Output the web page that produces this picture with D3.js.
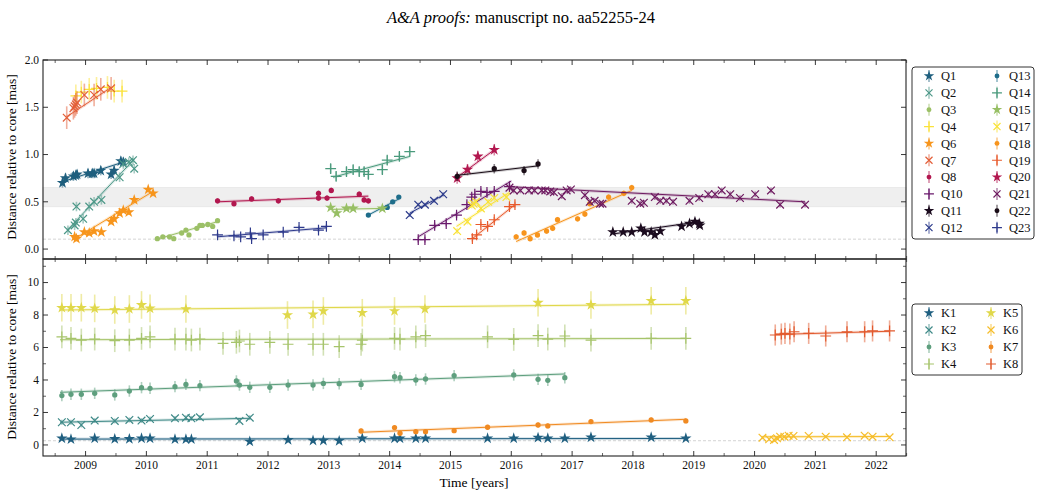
<!DOCTYPE html>
<html>
<head>
<meta charset="utf-8">
<script src="https://cdn.jsdelivr.net/npm/d3@7"></script>
<style>
  body { margin: 0; background: #fff; }
  svg { font-family: "Liberation Serif", "DejaVu Serif", serif; }
</style>
</head>
<body>
<svg id="chart" width="1042" height="496"></svg>
<script>
// ---- top panel (Q components): epochs [yr], distance [mas], fit [t0, v0, t1, v1]
const Q1_t = [2008.62, 2008.67, 2008.80, 2008.84, 2008.86, 2009.04, 2009.11, 2009.14, 2009.25, 2009.42, 2009.47, 2009.58, 2009.62];
const Q1_v = [0.70, 0.75, 0.77, 0.78, 0.79, 0.80, 0.80, 0.80, 0.83, 0.79, 0.83, 0.93, 0.92];
const Q1_fit = [2008.61, 0.71, 2009.62, 0.92];

const Q2_t = [2008.71, 2008.82, 2008.84, 2008.85, 2008.96, 2009.06, 2009.14, 2009.26, 2009.56, 2009.62, 2009.71, 2009.78, 2009.80];
const Q2_v = [0.20, 0.25, 0.28, 0.45, 0.32, 0.45, 0.50, 0.52, 0.76, 0.90, 0.92, 0.94, 0.85];
const Q2_fit = [2008.70, 0.20, 2009.80, 0.95];

const Q3_t = [2010.18, 2010.27, 2010.38, 2010.45, 2010.58, 2010.65, 2010.70, 2010.83, 2010.88, 2010.92, 2011.01, 2011.09, 2011.17];
const Q3_v = [0.11, 0.13, 0.13, 0.11, 0.17, 0.20, 0.15, 0.22, 0.25, 0.25, 0.26, 0.24, 0.30];
const Q3_fit = [2010.15, 0.10, 2011.17, 0.29];

const Q4_t = [2008.84, 2008.93, 2009.06, 2009.18, 2009.36, 2009.47, 2009.60];
const Q4_v = [1.62, 1.66, 1.69, 1.70, 1.71, 1.67, 1.67];
const Q4_fit = null;

const Q6_t = [2008.82, 2008.85, 2008.98, 2009.06, 2009.14, 2009.26, 2009.42, 2009.47, 2009.56, 2009.62, 2009.71, 2009.80, 2010.03, 2010.11];
const Q6_v = [0.13, 0.11, 0.18, 0.17, 0.19, 0.18, 0.29, 0.32, 0.38, 0.41, 0.39, 0.52, 0.63, 0.59];
const Q6_fit = [2008.80, 0.10, 2010.11, 0.61];

const Q7_t = [2008.69, 2008.80, 2008.82, 2008.84, 2008.86, 2008.98, 2009.14, 2009.25, 2009.42];
const Q7_v = [1.39, 1.49, 1.51, 1.53, 1.55, 1.63, 1.63, 1.69, 1.70];
const Q7_fit = [2008.69, 1.40, 2009.42, 1.71];

const Q8_t = [2011.17, 2011.44, 2011.73, 2012.17, 2012.83, 2012.83, 2012.97, 2013.04, 2013.50, 2013.58, 2013.65];
const Q8_v = [0.51, 0.48, 0.53, 0.51, 0.54, 0.59, 0.54, 0.62, 0.58, 0.52, 0.51];
const Q8_fit = [2011.17, 0.50, 2013.65, 0.56];

const Q10_t = [2014.47, 2014.58, 2014.74, 2014.93, 2015.10, 2015.27, 2015.35, 2015.40, 2015.50, 2015.60, 2015.72, 2015.97];
const Q10_v = [0.10, 0.10, 0.25, 0.27, 0.36, 0.47, 0.55, 0.58, 0.61, 0.60, 0.61, 0.66];
const Q10_fit = [2014.47, 0.13, 2016.00, 0.72];

const Q11_t = [2017.67, 2017.84, 2017.98, 2018.13, 2018.19, 2018.30, 2018.36, 2018.45, 2018.80, 2018.93, 2019.02, 2019.09, 2019.10];
const Q11_v = [0.18, 0.18, 0.18, 0.22, 0.18, 0.18, 0.15, 0.19, 0.24, 0.27, 0.29, 0.27, 0.25];
const Q11_fit = [2017.67, 0.16, 2019.10, 0.29];

const Q12_t = [2014.33, 2014.47, 2014.58, 2014.73, 2014.88];
const Q12_v = [0.36, 0.47, 0.47, 0.51, 0.58];
const Q12_fit = [2014.33, 0.38, 2014.88, 0.57];

const Q13_t = [2013.65, 2013.96, 2014.05, 2014.15];
const Q13_v = [0.36, 0.44, 0.50, 0.55];
const Q13_fit = [2013.65, 0.36, 2014.15, 0.53];

const Q14_t = [2013.03, 2013.12, 2013.29, 2013.40, 2013.50, 2013.58, 2013.65, 2013.88, 2013.96, 2014.16, 2014.33];
const Q14_v = [0.85, 0.77, 0.82, 0.84, 0.82, 0.82, 0.79, 0.84, 0.94, 0.98, 1.03];
const Q14_fit = [2013.07, 0.76, 2014.33, 0.98];

const Q15_t = [2013.03, 2013.13, 2013.29, 2013.40, 2013.88];
const Q15_v = [0.44, 0.38, 0.43, 0.43, 0.43];
const Q15_fit = [2013.03, 0.42, 2013.90, 0.43];

const Q17_t = [2015.11, 2015.28, 2015.35, 2015.38, 2015.42, 2015.50, 2015.62, 2015.72, 2015.92];
const Q17_v = [0.19, 0.29, 0.46, 0.48, 0.50, 0.43, 0.50, 0.54, 0.55];
const Q17_fit = [2015.10, 0.24, 2015.97, 0.60];

const Q18_t = [2016.08, 2016.21, 2016.31, 2016.43, 2016.58, 2016.68, 2016.76, 2017.09, 2017.21, 2017.29, 2017.60, 2017.85, 2017.98];
const Q18_v = [0.13, 0.17, 0.11, 0.15, 0.19, 0.22, 0.31, 0.32, 0.37, 0.48, 0.55, 0.59, 0.65];
const Q18_fit = [2016.08, 0.08, 2017.98, 0.62];

const Q19_t = [2015.36, 2015.43, 2015.50, 2015.61, 2015.72, 2015.97, 2016.06];
const Q19_v = [0.11, 0.15, 0.26, 0.24, 0.31, 0.45, 0.47];
const Q19_fit = [2015.36, 0.11, 2016.06, 0.47];

const Q20_t = [2015.11, 2015.28, 2015.45, 2015.72];
const Q20_v = [0.75, 0.84, 0.98, 1.05];
const Q20_fit = [2015.11, 0.76, 2015.72, 1.05];

const Q21_t = [2015.97, 2016.04, 2016.15, 2016.29, 2016.38, 2016.50, 2016.56, 2016.64, 2016.70, 2016.83, 2016.91, 2016.98,
               2017.21, 2017.29, 2017.37, 2017.46, 2017.50, 2017.98, 2018.12, 2018.18, 2018.36, 2018.45, 2018.55, 2018.66,
               2018.93, 2019.09, 2019.24, 2019.35, 2019.46, 2019.60, 2019.76, 2020.01, 2020.27, 2020.42, 2020.83];
const Q21_v = [0.65, 0.62, 0.62, 0.62, 0.62, 0.62, 0.62, 0.61, 0.60, 0.56, 0.62, 0.63,
               0.57, 0.50, 0.51, 0.48, 0.48, 0.51, 0.48, 0.49, 0.55, 0.51, 0.51, 0.50,
               0.51, 0.54, 0.58, 0.58, 0.62, 0.58, 0.54, 0.58, 0.62, 0.47, 0.47];
const Q21_fit = [2015.97, 0.66, 2020.83, 0.50];

const Q22_t = [2015.11, 2015.72, 2016.21, 2016.44];
const Q22_v = [0.77, 0.85, 0.83, 0.90];
const Q22_fit = [2015.11, 0.78, 2016.44, 0.88];

const Q23_t = [2011.17, 2011.44, 2011.55, 2011.71, 2011.73, 2011.92, 2012.25, 2012.51, 2012.83, 2012.96];
const Q23_v = [0.15, 0.14, 0.13, 0.17, 0.11, 0.15, 0.18, 0.23, 0.20, 0.24];
const Q23_fit = [2011.17, 0.13, 2012.96, 0.225];

// ---- bottom panel (K components)
const K1_t = [2008.61, 2008.76, 2009.15, 2009.48, 2009.72, 2009.92, 2010.06, 2010.47, 2010.65, 2010.74, 2011.70, 2012.33, 2012.74, 2012.91,
              2013.17, 2013.55, 2014.08, 2014.17, 2014.43, 2014.59, 2015.61, 2016.04, 2016.44, 2016.60, 2016.88, 2017.31, 2018.30, 2018.87];
const K1_v = [0.41, 0.35, 0.41, 0.37, 0.37, 0.41, 0.41, 0.35, 0.35, 0.35, 0.21, 0.31, 0.27, 0.27,
              0.25, 0.41, 0.41, 0.41, 0.41, 0.41, 0.41, 0.41, 0.45, 0.41, 0.41, 0.47, 0.47, 0.41];
const K1_fit = [2008.58, 0.36, 2018.87, 0.40];

const K2_t = [2008.61, 2008.76, 2008.93, 2009.15, 2009.48, 2009.72, 2009.92, 2010.06, 2010.47, 2010.65, 2010.74, 2010.88, 2011.53, 2011.70];
const K2_v = [1.40, 1.40, 1.23, 1.50, 1.48, 1.54, 1.50, 1.60, 1.64, 1.68, 1.64, 1.70, 1.48, 1.68];
const K2_fit = [2008.58, 1.40, 2011.70, 1.64];

const K3_t = [2008.61, 2008.76, 2008.93, 2009.15, 2009.48, 2009.72, 2009.92, 2010.06, 2010.47, 2010.65, 2010.88, 2011.48, 2011.53, 2011.70,
              2012.03, 2012.33, 2012.74, 2012.91, 2013.17, 2013.53, 2014.08, 2014.17, 2014.43, 2014.59, 2015.06, 2016.04, 2016.44, 2016.60, 2016.88];
const K3_v = [3.04, 3.12, 3.12, 3.18, 3.08, 3.32, 3.53, 3.49, 3.59, 3.73, 3.65, 3.94, 3.69, 3.55,
              3.55, 3.69, 3.69, 3.79, 3.77, 3.73, 4.20, 4.14, 4.00, 4.06, 4.27, 4.31, 4.04, 3.98, 4.14];
const K3_fit = [2008.58, 3.24, 2016.88, 4.37];

const K4_t = [2008.61, 2008.76, 2008.93, 2009.15, 2009.48, 2009.72, 2009.92, 2010.06, 2010.47, 2010.65, 2010.74, 2010.88, 2011.26, 2011.48,
              2011.53, 2011.70, 2012.03, 2012.33, 2012.74, 2012.91, 2013.17, 2013.53, 2013.55, 2014.08, 2014.17, 2014.43, 2014.59, 2015.61,
              2016.04, 2016.44, 2016.60, 2016.88, 2017.31, 2018.30, 2018.87];
const K4_v = [6.66, 6.56, 6.46, 6.52, 6.42, 6.46, 6.56, 6.66, 6.52, 6.52, 6.46, 6.52, 6.26, 6.32,
              6.40, 6.20, 6.32, 6.20, 6.20, 6.20, 6.05, 6.20, 6.46, 6.56, 6.52, 6.66, 6.73, 6.66,
              6.50, 6.73, 6.52, 6.71, 6.46, 6.56, 6.56];
const K4_fit = [2008.58, 6.48, 2018.87, 6.56];

const K5_t = [2008.61, 2008.76, 2008.93, 2009.15, 2009.48, 2009.72, 2009.92, 2010.06, 2010.65, 2012.32, 2012.74, 2012.91,
              2013.55, 2014.08, 2014.58, 2016.44, 2017.31, 2018.30, 2018.87];
const K5_v = [8.45, 8.45, 8.45, 8.41, 8.31, 8.37, 8.62, 8.41, 8.37, 8.00, 8.04, 8.25,
              8.14, 8.25, 8.37, 8.76, 8.62, 8.88, 8.88];
const K5_fit = [2008.58, 8.31, 2018.87, 8.66];

const K6_t = [2020.13, 2020.24, 2020.32, 2020.37, 2020.42, 2020.49, 2020.56, 2020.64, 2020.89, 2021.17, 2021.52, 2021.81, 2021.94, 2022.22];
const K6_v = [0.45, 0.35, 0.31, 0.41, 0.51, 0.51, 0.57, 0.55, 0.55, 0.51, 0.47, 0.57, 0.51, 0.47];
const K6_fit = [2020.13, 0.50, 2022.22, 0.52];

const K7_t = [2013.53, 2014.08, 2014.17, 2014.43, 2014.59, 2015.06, 2015.61, 2016.44, 2016.60, 2017.31, 2018.30, 2018.87];
const K7_v = [0.86, 1.07, 0.72, 0.82, 0.82, 0.88, 1.09, 1.23, 1.17, 1.44, 1.54, 1.48];
const K7_fit = [2013.53, 0.78, 2018.87, 1.58];

const K8_t = [2020.34, 2020.44, 2020.50, 2020.58, 2020.65, 2020.89, 2021.17, 2021.52, 2021.81, 2021.94, 2022.22];
const K8_v = [6.77, 6.83, 6.87, 6.83, 6.97, 6.87, 6.71, 6.97, 6.97, 7.02, 7.02];
const K8_fit = [2020.34, 6.80, 2022.22, 7.00];

// series tables built from the arrays above
const topSeries = [
  {name: "Q1",  t: Q1_t,  v: Q1_v,  fit: Q1_fit,  err: 0.05, color: "#1f5f7e", marker: "star"},
  {name: "Q2",  t: Q2_t,  v: Q2_v,  fit: Q2_fit,  err: 0.05, color: "#4c9888", marker: "x"},
  {name: "Q3",  t: Q3_t,  v: Q3_v,  fit: Q3_fit,  err: 0.02, color: "#9cc067", marker: "circle"},
  {name: "Q4",  t: Q4_t,  v: Q4_v,  fit: Q4_fit,  err: 0.12, color: "#fbe23a", marker: "plus"},
  {name: "Q6",  t: Q6_t,  v: Q6_v,  fit: Q6_fit,  err: 0.03, color: "#f7951c", marker: "star"},
  {name: "Q7",  t: Q7_t,  v: Q7_v,  fit: Q7_fit,  err: 0.12, color: "#e35f39", marker: "x"},
  {name: "Q8",  t: Q8_t,  v: Q8_v,  fit: Q8_fit,  err: 0.03, color: "#b2174f", marker: "circle"},
  {name: "Q10", t: Q10_t, v: Q10_v, fit: Q10_fit, err: 0.03, color: "#6a1a6c", marker: "plus"},
  {name: "Q11", t: Q11_t, v: Q11_v, fit: Q11_fit, err: 0.02, color: "#1b0b1e", marker: "star"},
  {name: "Q12", t: Q12_t, v: Q12_v, fit: Q12_fit, err: 0.02, color: "#2c3b8b", marker: "x"},
  {name: "Q13", t: Q13_t, v: Q13_v, fit: Q13_fit, err: 0.02, color: "#1e6d8a", marker: "circle"},
  {name: "Q14", t: Q14_t, v: Q14_v, fit: Q14_fit, err: 0.05, color: "#4a9a7c", marker: "plus"},
  {name: "Q15", t: Q15_t, v: Q15_v, fit: Q15_fit, err: 0.02, color: "#97bf64", marker: "star"},
  {name: "Q17", t: Q17_t, v: Q17_v, fit: Q17_fit, err: 0.03, color: "#f9e234", marker: "x"},
  {name: "Q18", t: Q18_t, v: Q18_v, fit: Q18_fit, err: 0.03, color: "#f7941d", marker: "circle"},
  {name: "Q19", t: Q19_t, v: Q19_v, fit: Q19_fit, err: 0.03, color: "#e8592b", marker: "plus"},
  {name: "Q20", t: Q20_t, v: Q20_v, fit: Q20_fit, err: 0.06, color: "#b2174f", marker: "star"},
  {name: "Q21", t: Q21_t, v: Q21_v, fit: Q21_fit, err: 0.03, color: "#6e1a60", marker: "x"},
  {name: "Q22", t: Q22_t, v: Q22_v, fit: Q22_fit, err: 0.05, color: "#1a0d17", marker: "circle"},
  {name: "Q23", t: Q23_t, v: Q23_v, fit: Q23_fit, err: 0.02, color: "#2e3a8c", marker: "plus"}
];

const bottomSeries = [
  {name: "K1", t: K1_t, v: K1_v, fit: K1_fit, err: 0.10, color: "#1f5f80", marker: "star"},
  {name: "K2", t: K2_t, v: K2_v, fit: K2_fit, err: 0.15, color: "#3f8a88", marker: "x"},
  {name: "K3", t: K3_t, v: K3_v, fit: K3_fit, err: 0.35, color: "#5e9f7e", marker: "circle"},
  {name: "K4", t: K4_t, v: K4_v, fit: K4_fit, err: 0.70, color: "#a6c46b", marker: "plus"},
  {name: "K5", t: K5_t, v: K5_v, fit: K5_fit, err: 0.85, color: "#e0d84a", marker: "star"},
  {name: "K6", t: K6_t, v: K6_v, fit: K6_fit, err: 0.10, color: "#f6bd2a", marker: "x"},
  {name: "K7", t: K7_t, v: K7_v, fit: K7_fit, err: 0.15, color: "#f08a22", marker: "circle"},
  {name: "K8", t: K8_t, v: K8_v, fit: K8_fit, err: 0.65, color: "#e25a2e", marker: "plus"}
];

const yearTicks = [2009, 2010, 2011, 2012, 2013, 2014, 2015, 2016, 2017, 2018, 2019, 2020, 2021, 2022];
const topYTicks = [0.0, 0.5, 1.0, 1.5, 2.0];
const bottomYTicks = [0, 2, 4, 6, 8, 10];
const topBand = [0.447, 0.651];
const topFloor = 0.105;
const bottomFloor = 0.26;

// ---- layout
const svg = d3.select("#chart");
const left = 43, right = 906;
const topPanel = {y0: 60, y1: 259};
const botPanel = {y0: 259, y1: 456};

const x = d3.scaleLinear().domain([2008.30, 2022.49]).range([left, right]);
const yTop = d3.scaleLinear().domain([-0.105, 2.0]).range([topPanel.y1, topPanel.y0]);
const yBot = d3.scaleLinear().domain([-0.68, 11.45]).range([botPanel.y1, botPanel.y0]);

// title
const title = svg.append("text")
  .attr("x", 521).attr("y", 23)
  .attr("text-anchor", "middle")
  .attr("font-size", 16.5);
title.append("tspan").attr("font-style", "italic").text("A&A proofs:");
title.append("tspan").text(" manuscript no. aa52255-24");

function symbolFor(type) {
  if (type === "star") return d3.symbolStar;
  if (type === "circle") return d3.symbolCircle;
  if (type === "plus") return d3.symbolPlus;
  return d3.symbolTimes;
}

function drawMarker(sel, type, color, scale = 1) {
  const size = (type === "circle" ? 22 : type === "star" ? 40 : 40) * scale;
  const filled = type === "star" || type === "circle";
  sel.append("path")
    .attr("d", d3.symbol().type(symbolFor(type)).size(size)())
    .attr("fill", filled ? color : "none")
    .attr("stroke", filled ? "none" : color)
    .attr("stroke-width", 1.2);
}

function drawPanel(series, y, panel, clipId) {
  const g = svg.append("g");

  svg.append("clipPath").attr("id", clipId)
    .append("rect")
    .attr("x", left).attr("y", panel.y0)
    .attr("width", right - left).attr("height", panel.y1 - panel.y0);

  const plot = g.append("g").attr("clip-path", `url(#${clipId})`);

  series.forEach(s => {
    // fit line with faint envelope
    if (s.fit) {
      const [t0, v0, t1, v1] = s.fit;
      plot.append("line")
        .attr("x1", x(t0)).attr("y1", y(v0)).attr("x2", x(t1)).attr("y2", y(v1))
        .attr("stroke", s.color).attr("stroke-width", 3).attr("stroke-opacity", 0.2);
      plot.append("line")
        .attr("x1", x(t0)).attr("y1", y(v0)).attr("x2", x(t1)).attr("y2", y(v1))
        .attr("stroke", s.color).attr("stroke-width", 1);
    }
    const pts = s.t.map((t, i) => ({t: t, v: s.v[i]}));
    // error bars
    plot.selectAll(null).data(pts).enter().append("line")
      .attr("x1", d => x(d.t)).attr("x2", d => x(d.t))
      .attr("y1", d => y(d.v - s.err)).attr("y2", d => y(d.v + s.err))
      .attr("stroke", s.color).attr("stroke-width", 1.6).attr("stroke-opacity", 0.5);
    // markers
    plot.selectAll(null).data(pts).enter().append("g")
      .attr("transform", d => `translate(${x(d.t)},${y(d.v)})`)
      .each(function() { drawMarker(d3.select(this), s.marker, s.color); });
  });
  return g;
}

// top panel backgrounds
svg.append("rect")
  .attr("x", left).attr("width", right - left)
  .attr("y", yTop(topBand[1])).attr("height", yTop(topBand[0]) - yTop(topBand[1]))
  .attr("fill", "#efefef").attr("stroke", "#e2e2e2").attr("stroke-width", 0.6);
svg.append("line")
  .attr("x1", left).attr("x2", right).attr("y1", yTop(topFloor)).attr("y2", yTop(topFloor))
  .attr("stroke", "#c8c8c8").attr("stroke-width", 0.8).attr("stroke-dasharray", "3,2");
svg.append("line")
  .attr("x1", left).attr("x2", right).attr("y1", yBot(bottomFloor)).attr("y2", yBot(bottomFloor))
  .attr("stroke", "#c8c8c8").attr("stroke-width", 0.8).attr("stroke-dasharray", "3,2");

drawPanel(topSeries, yTop, topPanel, "clipTop");
drawPanel(bottomSeries, yBot, botPanel, "clipBot");

// ---- frames and inward ticks
function frame(panel, y, majors, minors, fmt) {
  const g = svg.append("g").attr("stroke", "#222");
  g.append("rect")
    .attr("x", left).attr("y", panel.y0)
    .attr("width", right - left).attr("height", panel.y1 - panel.y0)
    .attr("fill", "none").attr("stroke-width", 1.1);

  const xMinor = d3.range(2008.5, 2022.51, 1);
  yearTicks.forEach(t => {
    g.append("line").attr("x1", x(t)).attr("x2", x(t)).attr("y1", panel.y1).attr("y2", panel.y1 - 5).attr("stroke-width", 0.9);
    g.append("line").attr("x1", x(t)).attr("x2", x(t)).attr("y1", panel.y0).attr("y2", panel.y0 + 5).attr("stroke-width", 0.9);
  });
  xMinor.forEach(t => {
    g.append("line").attr("x1", x(t)).attr("x2", x(t)).attr("y1", panel.y1).attr("y2", panel.y1 - 3).attr("stroke-width", 0.7);
    g.append("line").attr("x1", x(t)).attr("x2", x(t)).attr("y1", panel.y0).attr("y2", panel.y0 + 3).attr("stroke-width", 0.7);
  });
  majors.forEach(v => {
    g.append("line").attr("x1", left).attr("x2", left + 5).attr("y1", y(v)).attr("y2", y(v)).attr("stroke-width", 0.9);
    g.append("line").attr("x1", right).attr("x2", right - 5).attr("y1", y(v)).attr("y2", y(v)).attr("stroke-width", 0.9);
    svg.append("text")
      .attr("x", left - 4).attr("y", y(v)).attr("dy", "0.33em")
      .attr("text-anchor", "end").attr("font-size", 11.5).attr("fill", "#111")
      .text(fmt(v));
  });
  minors.forEach(v => {
    g.append("line").attr("x1", left).attr("x2", left + 3).attr("y1", y(v)).attr("y2", y(v)).attr("stroke-width", 0.7);
    g.append("line").attr("x1", right).attr("x2", right - 3).attr("y1", y(v)).attr("y2", y(v)).attr("stroke-width", 0.7);
  });
}

frame(topPanel, yTop, topYTicks, [], d3.format(".1f"));
frame(botPanel, yBot, bottomYTicks, [1, 3, 5, 7, 9, 11], d3.format("d"));

// x tick labels
svg.selectAll(".xlab").data(yearTicks).enter().append("text")
  .attr("class", "xlab")
  .attr("x", d => x(d)).attr("y", 469)
  .attr("text-anchor", "middle").attr("font-size", 11.5).attr("fill", "#111")
  .text(d => d);

// axis titles
svg.append("text")
  .attr("x", 474).attr("y", 487)
  .attr("text-anchor", "middle").attr("font-size", 13.5)
  .text("Time [years]");
[[topPanel, 157], [botPanel, 357]].forEach(([p, cy]) => {
  svg.append("text")
    .attr("transform", `translate(16,${cy}) rotate(-90)`)
    .attr("text-anchor", "middle").attr("font-size", 13.5)
    .text("Distance relative to core [mas]");
});

// ---- legends
function legend(series, bx, by, bw, bh, rowH, col2Marker, rows) {
  const g = svg.append("g");
  g.append("rect")
    .attr("x", bx).attr("y", by).attr("width", bw).attr("height", bh)
    .attr("rx", 3).attr("fill", "#fff").attr("stroke", "#333").attr("stroke-width", 1);
  series.forEach((s, i) => {
    const col = Math.floor(i / rows), row = i % rows;
    const mx = col === 0 ? bx + 17 : col2Marker;
    const my = by + 9 + row * rowH;
    const item = g.append("g").attr("transform", `translate(${mx},${my})`);
    item.append("line").attr("y1", -6).attr("y2", 6)
      .attr("stroke", s.color).attr("stroke-width", 1.6).attr("stroke-opacity", 0.5);
    drawMarker(item, s.marker, s.color, 0.85);
    g.append("text")
      .attr("x", mx + 12).attr("y", my).attr("dy", "0.35em")
      .attr("font-size", 12.5).attr("fill", "#111")
      .text(s.name);
  });
}

legend(topSeries, 912, 67, 122, 172, 16.85, 997, 10);
legend(bottomSeries, 912, 304, 110, 71, 17, 991, 4);
</script>
</body>
</html>
